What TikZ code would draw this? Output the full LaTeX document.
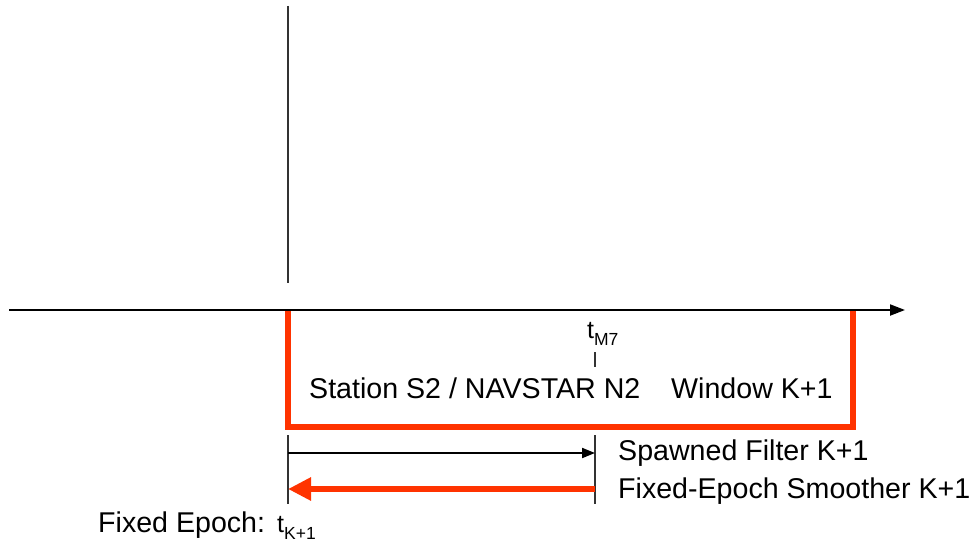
\documentclass[tikz,border=0pt]{standalone}
\usepackage{fontspec}
\setmainfont{Liberation Sans}
\usetikzlibrary{arrows.meta}
\definecolor{redor}{RGB}{255,51,0}
\begin{document}
\begin{tikzpicture}[x=1pt,y=-1pt,
  lbl/.style={anchor=base west, inner sep=0pt, font=\fontsize{28.6}{32}\selectfont},
  tlbl/.style={anchor=base west, inner sep=0pt, font=\fontsize{25}{27}\selectfont},
  thin/.style={line width=1.2pt, black!80},
  bracket/.style={redor, line width=6.5pt, line join=miter},
  axis/.style={line width=2pt, -{Triangle[length=15pt,width=11pt]}},
  fwd/.style={line width=2pt, -{Triangle[length=13pt,width=10pt]}},
  bwd/.style={redor, line width=6.5pt, -{Triangle[length=23pt,width=22pt]}}]
\useasboundingbox (0,0) rectangle (973,543);
% vertical marker
\coordinate (vtop) at (288,6);
\coordinate (vbot) at (288,283);
\draw[thin] (vtop) -- (vbot);
% red window bracket
\coordinate (bl0) at (288,310);
\coordinate (bl1) at (288,427);
\coordinate (br1) at (853,427);
\coordinate (br0) at (853,310);
\draw[bracket] (bl0) -- (bl1) -- (br1) -- (br0);
% time axis
\coordinate (ax0) at (9,310);
\coordinate (ax1) at (905,310);
\draw[axis] (ax0) -- (ax1);
% t_M7 marker
\node[tlbl] (tm7) at (587,338) {t\raisebox{-7pt}{\fontsize{17.5}{18}\selectfont M7}};
\coordinate (m7a) at (595,352);
\coordinate (m7b) at (595,367);
\draw[thin] (m7a) -- (m7b);
% window labels
\node[lbl] (station) at (309,398) {Station S2 / NAVSTAR N2};
\node[lbl] (window) at (671,398) {Window K+1};
% ticks below
\coordinate (lt0) at (288,435);
\coordinate (lt1) at (288,504);
\coordinate (rt0) at (595,435);
\coordinate (rt1) at (595,504);
\draw[thin] (lt0) -- (lt1);
\draw[thin] (rt0) -- (rt1);
% arrows
\coordinate (fa) at (288,453);
\coordinate (fb) at (595,453);
\draw[fwd] (fa) -- (fb);
\coordinate (sa) at (595,489);
\coordinate (sb) at (288,489);
\draw[bwd] (sa) -- (sb);
\node[lbl] (spawn) at (618,460) {Spawned Filter K+1};
\node[lbl] (smooth) at (618,498) {Fixed-Epoch Smoother K+1};
% fixed epoch
\node[lbl] (fixed) at (98,532) {Fixed Epoch:};
\node[tlbl] (tk) at (277,532) {t\raisebox{-7pt}{\fontsize{17.5}{18}\selectfont K+1}};
\end{tikzpicture}
\end{document}
